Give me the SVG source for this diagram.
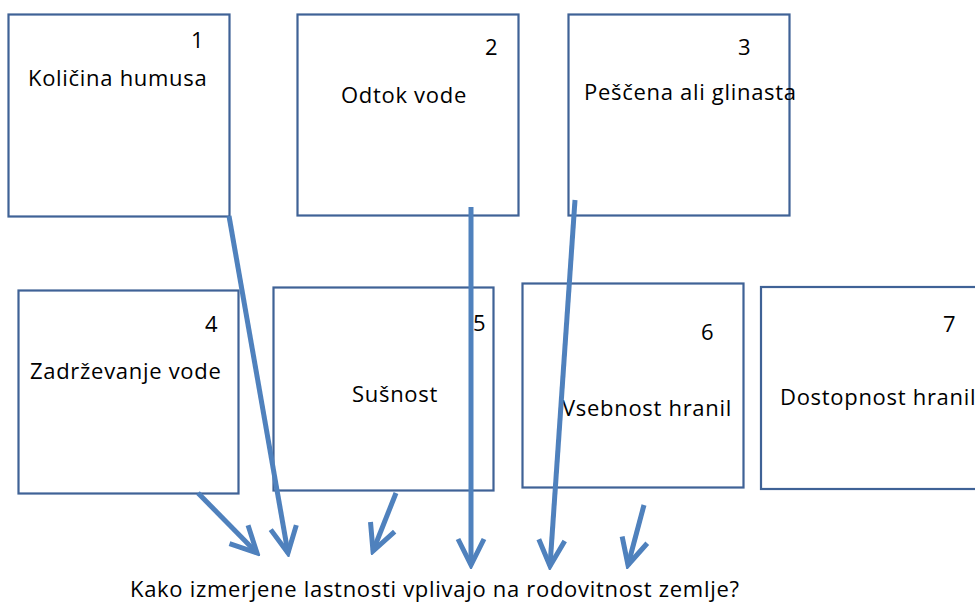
<svg xmlns="http://www.w3.org/2000/svg" width="975" height="603" viewBox="0 0 975 603">
<style>
.box{fill:#fff;stroke:#3F6296;stroke-width:2.2}
.t{font-family:"Open Sans","Liberation Sans",sans-serif;font-size:22px;letter-spacing:0.7px;fill:#000}
.c{stroke:#4F81BD;stroke-width:5;fill:none}
</style>
<defs>
<marker id="ah" markerUnits="userSpaceOnUse" viewBox="-30 -18 34 36" refX="0" refY="0" markerWidth="34" markerHeight="36" orient="auto">
<path d="M-26,-13 L0,0 L-26,13" fill="none" stroke="#4F81BD" stroke-width="5"/>
</marker>
</defs>
<rect width="975" height="603" fill="#fff"/>
<g id="n1"><rect class="box" x="8.5" y="14.5" width="221" height="202"/><text class="t" x="191" y="48">1</text><text class="t" x="28" y="86">Količina humusa</text></g>
<g id="n2"><rect class="box" x="297.5" y="14.5" width="221" height="201"/><text class="t" x="485" y="55">2</text><text class="t" x="341" y="103">Odtok vode</text></g>
<g id="n3"><rect class="box" x="568.5" y="14.5" width="221" height="201"/><text class="t" x="738" y="55">3</text><text class="t" x="584" y="100">Peščena ali glinasta</text></g>
<g id="n4"><rect class="box" x="18.5" y="290.5" width="220" height="203"/><text class="t" x="205" y="332">4</text><text class="t" x="30" y="379">Zadrževanje vode</text></g>
<g id="n5"><rect class="box" x="273.5" y="287.5" width="220" height="203"/><text class="t" x="473" y="331">5</text><text class="t" x="352" y="402">Sušnost</text></g>
<g id="n6"><rect class="box" x="522.5" y="283.5" width="221" height="204"/><text class="t" x="701" y="340">6</text><text class="t" x="562" y="416">Vsebnost hranil</text></g>
<g id="n7"><rect class="box" x="761" y="287" width="230" height="202"/><text class="t" x="943" y="332">7</text><text class="t" x="780" y="405">Dostopnost hranil</text></g>
<g id="connectors">
<line class="c" x1="229" y1="216" x2="288" y2="553" marker-end="url(#ah)"/>
<line class="c" x1="471" y1="207" x2="471" y2="565" marker-end="url(#ah)"/>
<line class="c" x1="575" y1="200" x2="550" y2="566" marker-end="url(#ah)"/>
<line class="c" x1="198" y1="493" x2="257" y2="553" marker-end="url(#ah)"/>
<line class="c" x1="396" y1="493" x2="373" y2="551" marker-end="url(#ah)"/>
<line class="c" x1="644" y1="505" x2="628" y2="565" marker-end="url(#ah)"/>
</g>
<text class="t" x="130" y="597">Kako izmerjene lastnosti vplivajo na rodovitnost zemlje?</text>
</svg>
